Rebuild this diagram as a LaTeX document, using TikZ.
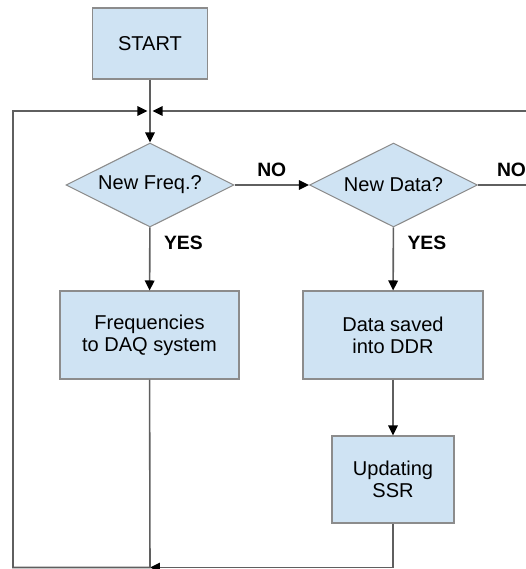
\documentclass[tikz,border=0pt]{standalone}
\usepackage{fontspec}
\setmainfont{Liberation Sans}
\usetikzlibrary{shapes.geometric,arrows.meta}
\definecolor{boxblue}{RGB}{207,227,243}
\definecolor{lineg}{RGB}{95,95,95}
\definecolor{edgeg}{RGB}{140,140,140}
\tikzset{
	block/.style = {draw=edgeg, fill=boxblue, line width=0.6pt, align=center, inner sep=0pt},
	decision/.style = {diamond, draw=edgeg, fill=boxblue, line width=0.6pt, aspect=2, inner sep=0pt,
		minimum width=3.36cm, minimum height=1.68cm},
	wire/.style = {draw=lineg, line width=0.9pt},
	flow/.style = {wire, -{Triangle[length=0.2cm, width=0.19cm, color=black]}},
	answer/.style = {font=\fontsize{11}{13}\selectfont\bfseries, inner sep=0pt}
}
\begin{document}
\begin{tikzpicture}[x=0.02cm, y=-0.02cm, font=\fontsize{11.4}{12.6}\selectfont]
		\useasboundingbox (0,0) rectangle (525,569);
		% boxes
		\node[block, minimum width=2.3cm, minimum height=1.42cm] (start) at (150,43.5) {START};
		\node[decision] (freq) at (150,185) {New Freq.?};
		\node[decision] (data) at (393.5,185) {New Data?};
		\node[block, minimum width=3.58cm, minimum height=1.76cm] (fbox) at (149.5,335) {Frequencies\\to DAQ system};
		\node[block, minimum width=3.6cm, minimum height=1.76cm] (dbox) at (393,335) {Data saved\\into DDR};
		\node[block, minimum width=2.44cm, minimum height=1.74cm] (ssr) at (393,479.5) {Updating\\SSR};
		% loop points
		\coordinate (j) at (150,111);
		\coordinate (rtop) at (545,111);
		\coordinate (bl) at (13,567.5);
		\coordinate (bm) at (150,567.5);
		% main flow
		\draw[flow] (start) -- (freq);
		\draw[flow] (freq) -- node[answer, midway, above=4.5pt] {NO} (data);
		\draw[flow] (freq) -- node[answer, pos=0.24, right=0.27cm] {YES} (fbox);
		\draw[flow] (data) -- node[answer, pos=0.24, right=0.27cm] {YES} (dbox);
		\draw[flow] (dbox) -- (ssr);
		% back to the top
		\draw[flow, shorten >=1.5pt] (data.east) -| node[answer, pos=0.25, above=4.5pt] {NO} (rtop) -- (j);
		\draw[flow] (ssr) |- (bm);
		\draw[flow, shorten >=1.5pt] (fbox) -- (bm) -- (bl) |- (j);
	\end{tikzpicture}
\end{document}
